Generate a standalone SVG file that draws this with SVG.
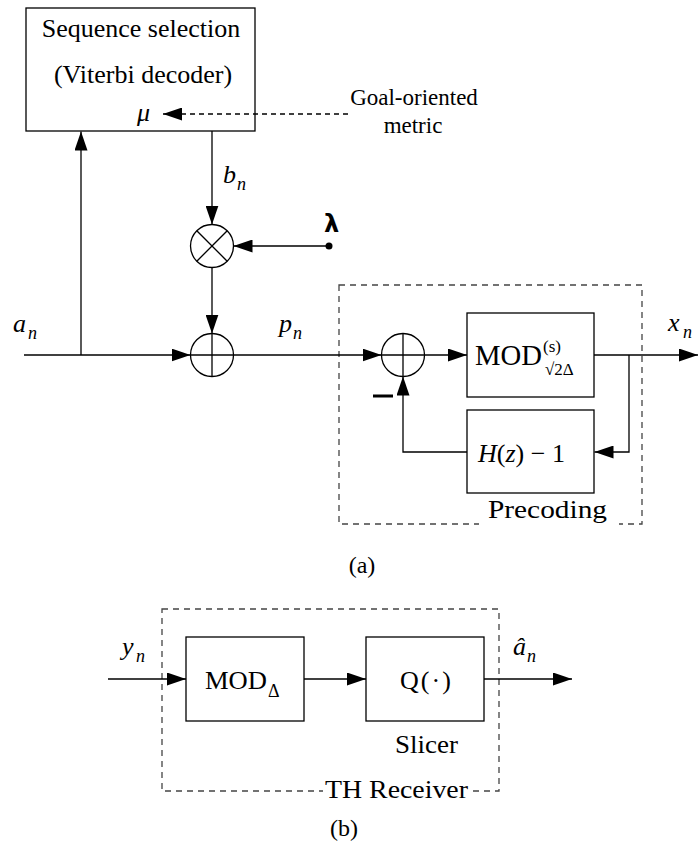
<svg xmlns="http://www.w3.org/2000/svg" width="698" height="845" viewBox="0 0 698 845">
<style>
.box{fill:#fff;stroke:#000;stroke-width:1.3}
.ln{fill:none;stroke:#000;stroke-width:1.3}
.dash{fill:none;stroke:#444;stroke-width:1.3;stroke-dasharray:6 5}
</style>
<defs>
<marker id="ah" markerUnits="userSpaceOnUse" markerWidth="20" markerHeight="13" refX="19" refY="6.5" orient="auto">
<path d="M0,0 L19,6.5 L0,13 z" fill="#000"/>
</marker>
</defs>
<g font-family="Liberation Serif, Times New Roman, serif" fill="#000">

<g id="precoding-frame">
<rect class="dash" x="339" y="285" width="303" height="239"/>
<rect x="479" y="516" width="140" height="14" fill="#fff"/>
<text x="488" y="518" font-size="25" textLength="119" lengthAdjust="spacingAndGlyphs">Precoding</text>
</g>

<g id="receiver-frame">
<rect class="dash" x="162" y="609" width="337" height="182"/>
<rect x="323" y="784" width="146" height="14" fill="#fff"/>
<text x="325" y="798" font-size="26" textLength="143" lengthAdjust="spacingAndGlyphs">TH Receiver</text>
</g>

<g id="viterbi">
<rect class="box" x="26" y="8" width="229" height="123"/>
<text x="141" y="37" font-size="26" text-anchor="middle">Sequence selection</text>
<text x="143" y="83" font-size="26" text-anchor="middle">(Viterbi decoder)</text>
<text x="137" y="121" font-size="26" font-style="italic">μ</text>
</g>

<g id="goal-metric">
<text x="414" y="105" font-size="23" text-anchor="middle">Goal-oriented</text>
<text x="413" y="133" font-size="23" text-anchor="middle">metric</text>
</g>

<g id="multiplier">
<circle class="box" cx="212" cy="246" r="21.5"/>
<line class="ln" x1="196.8" y1="230.8" x2="227.2" y2="261.2"/>
<line class="ln" x1="196.8" y1="261.2" x2="227.2" y2="230.8"/>
</g>

<g id="lambda">
<text x="324" y="232" font-size="24" font-weight="bold" font-family="DejaVu Sans, sans-serif">λ</text>
</g>

<g id="adder1">
<circle class="box" cx="212" cy="355" r="21.5"/>
<line class="ln" x1="190.5" y1="355" x2="233.5" y2="355"/>
<line class="ln" x1="212" y1="333.5" x2="212" y2="376.5"/>
</g>

<g id="adder2">
<circle class="box" cx="403" cy="355" r="21.5"/>
<line class="ln" x1="381.5" y1="355" x2="424.5" y2="355"/>
<line class="ln" x1="403" y1="333.5" x2="403" y2="376.5"/>
<rect x="373" y="394.5" width="20" height="3" fill="#000"/>
</g>

<g id="mod-sqrt2">
<rect class="box" x="467" y="313" width="127" height="84"/>
<text x="475" y="365" font-size="29" textLength="67" lengthAdjust="spacingAndGlyphs">MOD</text>
<text x="543" y="352" font-size="17">(s)</text>
<text x="545" y="375" font-size="17">√2Δ</text>
</g>

<g id="h-filter">
<rect class="box" x="467" y="410" width="127" height="83"/>
<text x="478" y="462" font-size="26"><tspan font-style="italic">H</tspan>(<tspan font-style="italic">z</tspan>) − 1</text>
</g>

<g id="mod-delta">
<rect class="box" x="186" y="637" width="118" height="84"/>
<text x="205" y="689" font-size="26" textLength="62" lengthAdjust="spacingAndGlyphs">MOD</text>
<text x="268" y="697" font-size="18">Δ</text>
</g>

<g id="slicer">
<rect class="box" x="366" y="637" width="118" height="84"/>
<text x="400" y="689" font-size="26" textLength="51" lengthAdjust="spacing">Q(·)</text>
<text x="395" y="753" font-size="26" textLength="63" lengthAdjust="spacingAndGlyphs">Slicer</text>
</g>

<g id="labels" font-style="italic">
<text x="13" y="332" font-size="26">a</text>
<text x="28" y="339" font-size="18">n</text>
<text x="279" y="332" font-size="26">p</text>
<text x="293" y="339" font-size="18">n</text>
<text x="223" y="183" font-size="26">b</text>
<text x="237" y="190" font-size="18">n</text>
<text x="668" y="331" font-size="26">x</text>
<text x="683" y="338" font-size="18">n</text>
<text x="122" y="655" font-size="26">y</text>
<text x="136" y="662" font-size="18">n</text>
<text x="513" y="655" font-size="26">â</text>
<text x="527" y="662" font-size="18">n</text>
<text x="362" y="573" font-size="24" font-style="normal" text-anchor="middle">(a)</text>
<text x="344" y="836" font-size="24" font-style="normal" text-anchor="middle">(b)</text>
</g>
</g>

<g id="connectors">
<line class="ln" x1="24" y1="355" x2="190.5" y2="355" marker-end="url(#ah)"/>
<line class="ln" x1="81" y1="355" x2="81" y2="131.5" marker-end="url(#ah)"/>
<line class="ln" x1="212" y1="131" x2="212" y2="224.5" marker-end="url(#ah)"/>
<line class="ln" x1="329" y1="246" x2="233.5" y2="246" marker-end="url(#ah)"/>
<line class="ln" x1="212" y1="267.5" x2="212" y2="333.5" marker-end="url(#ah)"/>
<line class="ln" x1="233.5" y1="355" x2="381.5" y2="355" marker-end="url(#ah)"/>
<line class="ln" x1="424.5" y1="355" x2="467" y2="355" marker-end="url(#ah)"/>
<line class="ln" x1="594" y1="355" x2="698" y2="355" marker-end="url(#ah)"/>
<polyline class="ln" points="629,355 629,452 594.5,452" marker-end="url(#ah)"/>
<polyline class="ln" points="467,452 403,452 403,376.5" marker-end="url(#ah)"/>
<line class="ln" x1="348" y1="114" x2="163" y2="114" stroke-dasharray="5 4" marker-end="url(#ah)"/>
<line class="ln" x1="108" y1="679" x2="186" y2="679" marker-end="url(#ah)"/>
<line class="ln" x1="304" y1="679" x2="366" y2="679" marker-end="url(#ah)"/>
<line class="ln" x1="484" y1="679" x2="572" y2="679" marker-end="url(#ah)"/>
<circle cx="329" cy="246" r="3.5" fill="#000"/>
</g>
</svg>
